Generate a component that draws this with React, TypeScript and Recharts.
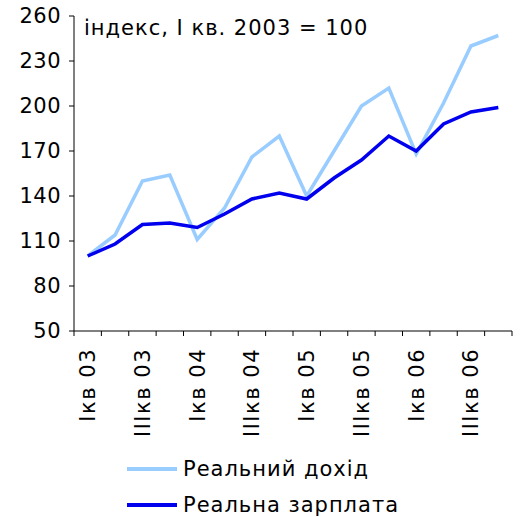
import { LineChart, Line, XAxis, YAxis } from "recharts";

const quarters = [
  "Iкв 03", "IIкв 03", "IIIкв 03", "IVкв 03",
  "Iкв 04", "IIкв 04", "IIIкв 04", "IVкв 04",
  "Iкв 05", "IIкв 05", "IIIкв 05", "IVкв 05",
  "Iкв 06", "IIкв 06", "IIIкв 06", "IVкв 06",
];
const realIncome = [100, 114, 150, 154, 111, 132, 166, 180, 140, 170, 200, 212, 168, 202, 240, 247];
const realWage = [100, 108, 121, 122, 119, 128, 138, 142, 138, 152, 164, 180, 170, 188, 196, 199];
const yTicks = [50, 80, 110, 140, 170, 200, 230, 260];

const FONT = "'DejaVu Sans', Verdana, sans-serif";
const LIGHT = "#99ccff";
const DARK = "#0000ee";

const data = quarters.map((q, i) => ({
  x: i + 0.5,
  quarter: q,
  income: realIncome[i],
  wage: realWage[i],
}));

// boundaries get a tick mark, every other category centre gets a label
const xTicks: number[] = [];
for (let i = 0; i <= quarters.length; i++) {
  xTicks.push(i);
  if (i < quarters.length && i % 2 === 0) xTicks.push(i + 0.5);
}

function XTick(props: any) {
  const { x, payload } = props;
  const v = payload.value as number;
  if (Number.isInteger(v)) {
    return <line x1={x} x2={x} y1={331} y2={336} stroke="#000" strokeWidth={1} />;
  }
  const label = quarters[Math.floor(v)];
  return (
    <text
      x={x}
      y={348}
      transform={`rotate(-90, ${x}, 348)`}
      textAnchor="end"
      dy="0.36em"
      fontSize={21}
      letterSpacing={1.5}
      fontFamily={FONT}
      fill="#000"
    >
      {label}
    </text>
  );
}

export default function App() {
  return (
    <div style={{ position: "absolute", left: 0, top: 0, width: 522, height: 517, background: "#fff", fontFamily: FONT }}>
      <LineChart width={522} height={517} data={data} margin={{ top: 16, right: 10, bottom: 0, left: 8 }}>
        <XAxis
          dataKey="x"
          type="number"
          domain={[0, quarters.length]}
          ticks={xTicks}
          interval={0}
          tickLine={false}
          tick={<XTick />}
          height={186}
          stroke="#000"
        />
        <YAxis
          domain={[50, 260]}
          ticks={yTicks}
          interval={0}
          width={66}
          tickSize={5}
          tickMargin={8}
          tick={{ fontSize: 21, fill: "#000", fontFamily: FONT, letterSpacing: 0.5 }}
          stroke="#000"
        />
        <Line dataKey="income" stroke={LIGHT} strokeWidth={3.5} dot={false} isAnimationActive={false} />
        <Line dataKey="wage" stroke={DARK} strokeWidth={3.5} dot={false} isAnimationActive={false} />
      </LineChart>
      <div style={{ position: "absolute", left: 84, top: 15, fontSize: 21, lineHeight: "26px", letterSpacing: 1, color: "#000", whiteSpace: "nowrap" }}>
        індекс, I кв. 2003 = 100
      </div>
      <div style={{ position: "absolute", left: 127, top: 451, fontSize: 21, letterSpacing: 1, color: "#000" }}>
        {[
          { name: "Реальний дохід", color: LIGHT },
          { name: "Реальна зарплата", color: DARK },
        ].map((s) => (
          <div key={s.name} style={{ display: "flex", alignItems: "center", height: 36, whiteSpace: "nowrap" }}>
            <span style={{ display: "inline-block", width: 50, height: 4, background: s.color, marginRight: 6 }} />
            <span>{s.name}</span>
          </div>
        ))}
      </div>
    </div>
  );
}
